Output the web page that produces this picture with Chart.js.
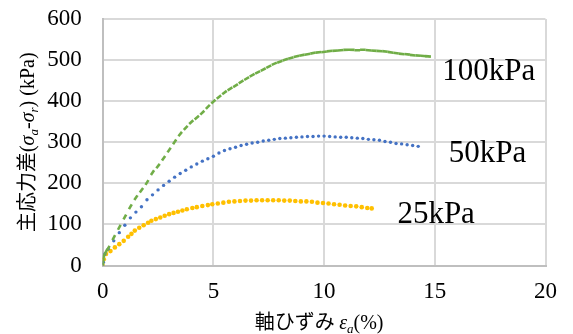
<!DOCTYPE html>
<html>
<head>
<meta charset="utf-8">
<script src="https://cdn.jsdelivr.net/npm/chart.js@4/dist/chart.umd.min.js"></script>
<style>
  html, body { margin: 0; padding: 0; background: #fff; }
  canvas { display: block; }
</style>
</head>
<body>
<canvas id="chart" width="573" height="334"></canvas>
<script>
// Triaxial test curves: deviator stress vs axial strain, three confining pressures
const seriesNames = ['100kPa', '50kPa', '25kPa'];

const strain100 = [0, 0.02, 0.05, 0.15, 0.25, 0.5, 0.75, 1, 1.25, 1.5, 1.75, 2, 2.25, 2.5, 2.75, 3, 3.25, 3.5, 3.75, 4,
  4.25, 4.5, 4.75, 5, 5.25, 5.5, 5.75, 6, 6.25, 6.5, 6.75, 7, 7.25, 7.5, 7.75, 8, 8.25, 8.5, 8.75, 9,
  9.25, 9.5, 9.75, 10, 10.25, 10.5, 10.75, 11, 11.25, 11.5, 11.75, 12, 12.25, 12.5, 12.75, 13, 13.25, 13.5, 13.75, 14,
  14.25, 14.5, 14.7];
const stress100 = [0, 10, 22, 34, 42, 68, 93, 118, 143, 165, 183, 202, 226, 242, 261, 281, 301, 320, 335, 349,
  360, 372, 386, 399, 410, 421, 430, 438, 447, 455, 463, 470, 477, 484, 491, 496, 501, 505, 509, 512,
  514, 517, 519, 520, 522, 523, 524, 525, 525, 524, 525, 524, 523, 522, 521, 519, 517, 515, 514, 512,
  511, 510, 509];

const strain50 = [0, 0.03, 0.1, 0.25, 0.5, 0.75, 1, 1.25, 1.5, 1.75, 2, 2.25, 2.5, 2.75, 3, 3.25, 3.5, 3.75, 4,
  4.25, 4.5, 4.75, 5, 5.25, 5.5, 5.75, 6, 6.25, 6.5, 6.75, 7, 7.25, 7.5, 7.75, 8, 8.25, 8.5, 8.75, 9,
  9.25, 9.5, 9.75, 10, 10.25, 10.5, 10.75, 11, 11.25, 11.5, 11.75, 12, 12.25, 12.5, 12.75, 13, 13.25, 13.5, 13.75, 14,
  14.25];
const stress50 = [0, 8, 28, 40, 60, 80, 98, 116, 130, 143, 160, 172, 184, 195, 205, 215, 224, 232, 240,
  247, 254, 260, 266, 274, 280, 284, 288, 292, 295, 298, 300, 303, 305, 307, 309, 310, 311, 312, 313,
  314, 314, 315, 315, 314, 313, 312, 312, 311, 310, 309, 307, 306, 305, 302, 300, 297, 296, 294, 292,
  290];

const strain25 = [0, 0.05, 0.15, 0.35, 0.55, 0.75, 0.95, 1.15, 1.3, 1.45, 1.65, 1.85, 2.05, 2.2, 2.4, 2.6, 2.8, 3, 3.2, 3.4,
  3.6, 3.8, 4.05, 4.25, 4.5, 4.75, 4.95, 5.2, 5.45, 5.7, 5.95, 6.2, 6.45, 6.7, 6.95, 7.2, 7.45, 7.7, 7.95, 8.2,
  8.45, 8.7, 8.95, 9.2, 9.45, 9.7, 9.95, 10.2, 10.45, 10.7, 10.95, 11.2, 11.45, 11.7, 11.95, 12.15];
const stress25 = [0, 15, 28, 35, 44, 52, 60, 70, 77, 85, 92, 98, 104, 109, 113, 117, 121, 125, 128, 131,
  134, 137, 140, 142, 145, 147, 149, 151, 153, 155, 156, 157, 158, 158, 159, 159, 159, 159, 159, 158,
  158, 157, 156, 156, 155, 153, 152, 151, 149, 148, 146, 145, 144, 142, 140, 139];

const xTickValues = [0, 5, 10, 15, 20];
const yTickValues = [0, 100, 200, 300, 400, 500, 600];

// where each series name sits, in axis units (left edge, text baseline)
const labelAnchors = [
  { x: 15.34, y: 451 },
  { x: 15.63, y: 253 },
  { x: 13.31, y: 103 }
];

const SERIF = '"Liberation Serif", "Times New Roman", serif';
const CJK = '"Noto Sans CJK JP", "Noto Sans", sans-serif';

const xTitleRuns = [
  { t: '軸ひずみ ', font: '20px ' + CJK },
  { t: 'ε', font: 'italic 20px ' + SERIF },
  { t: 'a', font: 'italic 13px ' + SERIF, dy: 4 },
  { t: '(%)', font: '20px ' + SERIF }
];
const yTitleRuns = [
  { t: '主応力差', font: '20px ' + CJK },
  { t: '(', font: '20px ' + SERIF },
  { t: 'σ', font: 'italic 20px ' + SERIF },
  { t: 'a', font: 'italic 13px ' + SERIF, dy: 4 },
  { t: '-', font: '20px ' + SERIF },
  { t: 'σ', font: 'italic 20px ' + SERIF },
  { t: 'r', font: 'italic 13px ' + SERIF, dy: 4 },
  { t: ') (kPa)', font: '20px ' + SERIF }
];

function toPoints(xs, ys) {
  return xs.map((x, i) => ({ x: x, y: ys[i] }));
}

// orient each short dash marker along the local direction of its curve
function tangentAngle(ctx) {
  const sx = ctx.chart.scales.x, sy = ctx.chart.scales.y;
  const d = ctx.dataset.data, i = ctx.dataIndex;
  if (!sx || !sy || !d || d.length < 2) return 0;
  const a = d[Math.max(0, i - 1)], b = d[Math.min(d.length - 1, i + 1)];
  const dx = sx.getPixelForValue(b.x) - sx.getPixelForValue(a.x);
  const dy = sy.getPixelForValue(b.y) - sy.getPixelForValue(a.y);
  return Math.atan2(dy, dx) * 180 / Math.PI;
}

function drawRuns(ctx, runs, cx, cy, angle) {
  ctx.save();
  ctx.translate(cx, cy);
  ctx.rotate(angle);
  ctx.textBaseline = 'alphabetic';
  ctx.textAlign = 'left';
  ctx.fillStyle = '#000';
  let total = 0;
  const widths = runs.map(r => { ctx.font = r.font; const w = ctx.measureText(r.t).width; total += w; return w; });
  let x = -total / 2;
  runs.forEach((r, i) => {
    ctx.font = r.font;
    ctx.fillText(r.t, x, r.dy || 0);
    x += widths[i];
  });
  ctx.restore();
}

const overlay = {
  id: 'overlay',
  afterDraw(chart) {
    const { ctx, chartArea, scales } = chart;
    ctx.save();
    ctx.fillStyle = '#000';
    ctx.font = '31px ' + SERIF;
    ctx.textBaseline = 'alphabetic';
    ctx.textAlign = 'left';
    seriesNames.forEach((name, i) => {
      const a = labelAnchors[i];
      ctx.fillText(name, scales.x.getPixelForValue(a.x), scales.y.getPixelForValue(a.y));
    });
    ctx.restore();

    const midX = (chartArea.left + chartArea.right) / 2 - 5;
    const midY = (chartArea.top + chartArea.bottom) / 2;
    drawRuns(ctx, xTitleRuns, midX, 329, 0);
    drawRuns(ctx, yTitleRuns, 34, midY, -Math.PI / 2);
  }
};

new Chart(document.getElementById('chart'), {
  type: 'scatter',
  data: {
    datasets: [
      { label: seriesNames[0], data: toPoints(strain100, stress100),
        pointStyle: 'line', borderColor: '#70ad47', backgroundColor: '#70ad47',
        borderWidth: 2.6, pointRadius: 2.8, rotation: tangentAngle },
      { label: seriesNames[1], data: toPoints(strain50, stress50),
        backgroundColor: '#4472c4', borderWidth: 0, pointRadius: 1.7 },
      { label: seriesNames[2], data: toPoints(strain25, stress25),
        backgroundColor: '#ffc000', borderWidth: 0, pointRadius: 2.3 }
    ]
  },
  options: {
    responsive: false,
    animation: false,
    devicePixelRatio: 1,
    layout: { padding: { top: 19, right: 27.5, left: 0, bottom: 0 } },
    plugins: { legend: { display: false }, tooltip: { enabled: false } },
    scales: {
      x: {
        type: 'linear',
        min: 0, max: 20,
        afterBuildTicks: s => { s.ticks = xTickValues.map(v => ({ value: v })); },
        afterFit: s => { s.height = 68.5; s.paddingLeft = 0; s.paddingRight = 0; },
        ticks: { font: { family: SERIF, size: 23 }, color: '#000', padding: 13, maxRotation: 0 },
        grid: { color: '#d9d9d9', lineWidth: 2, drawTicks: false },
        border: { color: '#bfbfbf', width: 2 }
      },
      y: {
        type: 'linear',
        min: 0, max: 600,
        afterBuildTicks: s => { s.ticks = yTickValues.map(v => ({ value: v })); },
        afterFit: s => { s.width = 102.7; s.paddingTop = 0; s.paddingBottom = 0; },
        ticks: { font: { family: SERIF, size: 23 }, color: '#000', padding: 21 },
        grid: { color: '#d9d9d9', lineWidth: 2, drawTicks: false },
        border: { color: '#bfbfbf', width: 2 }
      }
    }
  },
  plugins: [overlay]
});
</script>
</body>
</html>
